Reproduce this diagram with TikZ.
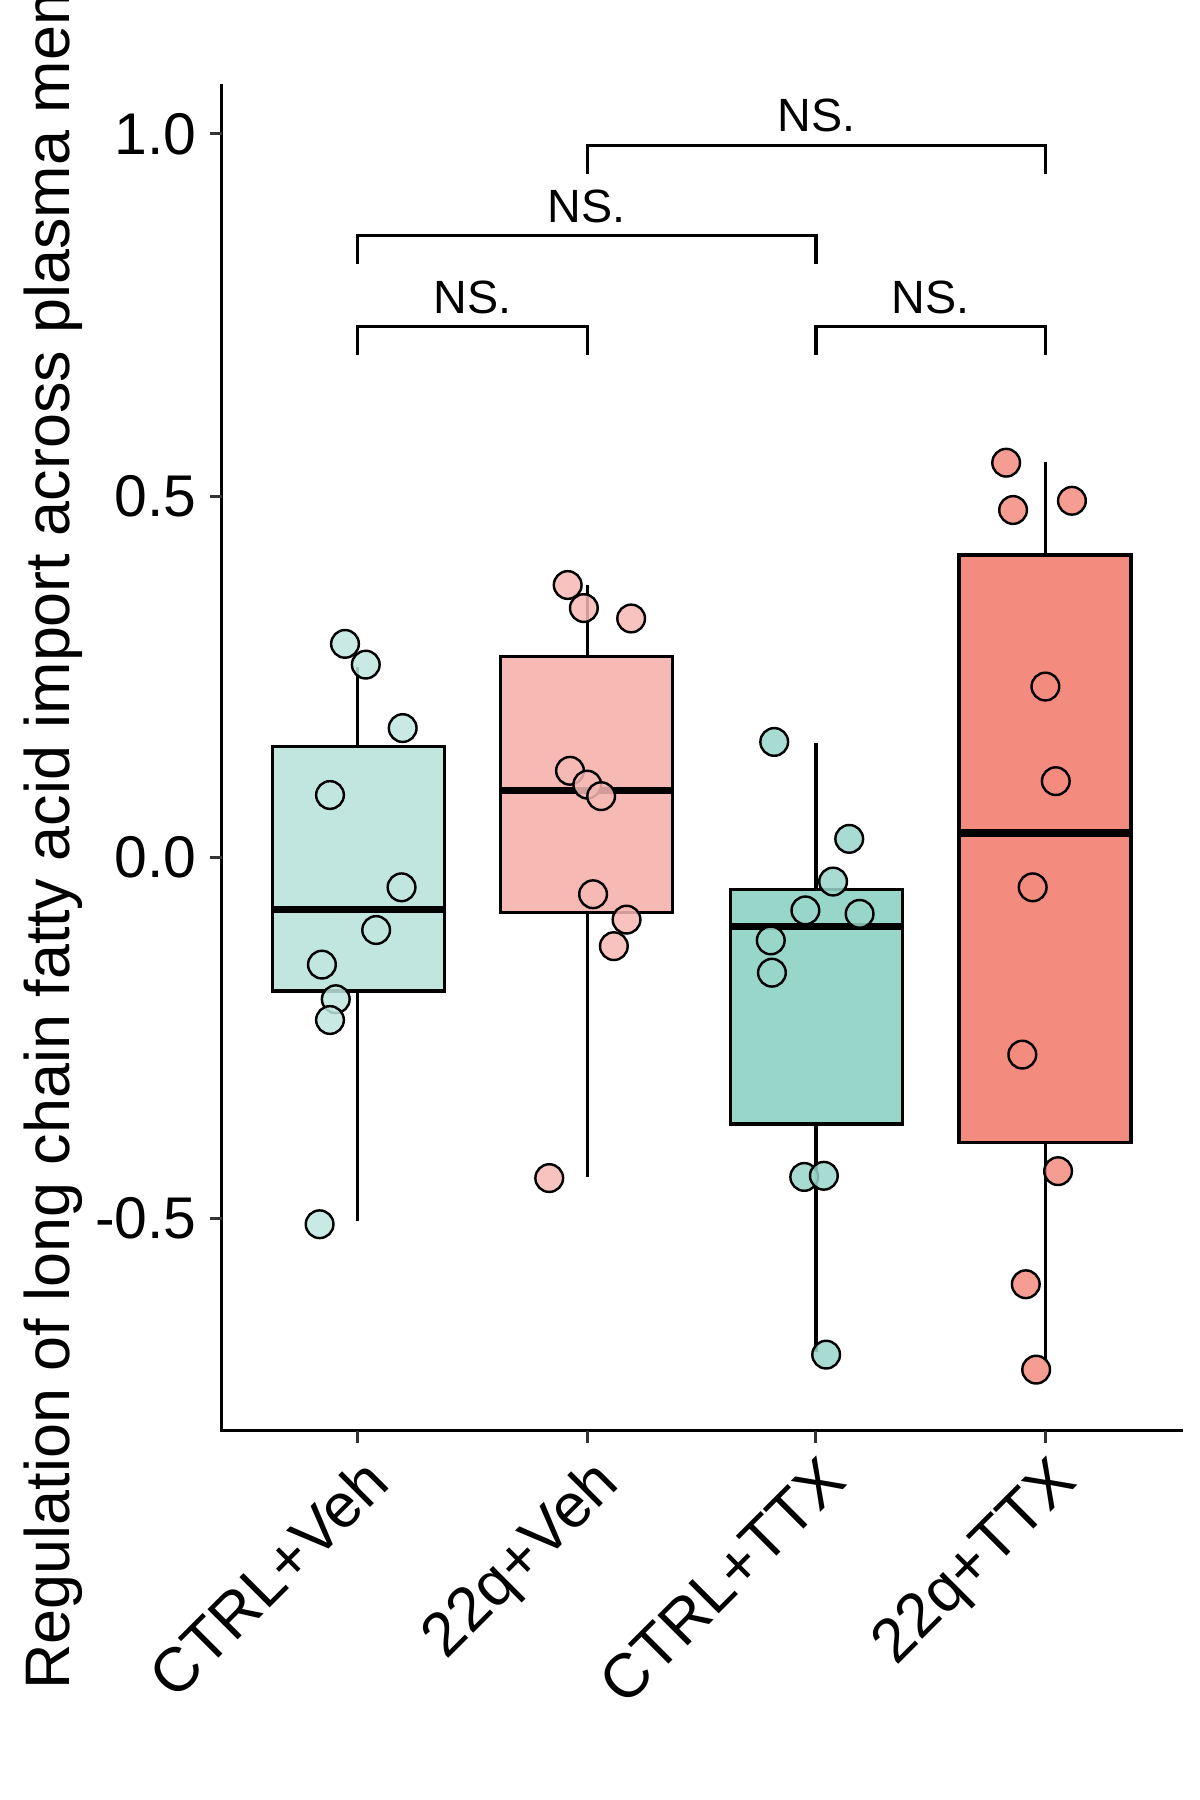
\documentclass[tikz,border=0pt]{standalone}
\usepackage{fontspec}
\setmainfont{Liberation Sans}
\definecolor{ctrlveh}{HTML}{C0E6DF}
\definecolor{qveh}{HTML}{F7B9B4}
\definecolor{ctrlttx}{HTML}{99D6CA}
\definecolor{qttx}{HTML}{F38C7F}
\definecolor{tickgrey}{HTML}{333333}
\tikzset{
  obs/.style={circle, draw=black, line width=0.6pt, inner sep=0pt,
    minimum size=0.24cm, fill opacity=0.85},
  boxline/.style={draw=black, line width=0.85pt},
  median/.style={line width=1.8pt},
  axisline/.style={line width=0.75pt},
  tickline/.style={tickgrey, line width=0.75pt},
  bracket/.style={line width=0.85pt},
  ticklab/.style={font=\fontsize{14.5}{16}\selectfont, anchor=east, inner sep=0pt},
  grplab/.style={font=\fontsize{15.3}{17}\selectfont, rotate=45, anchor=north east, inner sep=0pt},
  nslab/.style={font=\fontsize{11.5}{13}\selectfont, anchor=base, inner sep=0pt}
}
\begin{document}
\begin{tikzpicture}[x=0.01cm, y=-0.01cm]
  \useasboundingbox (0,0) rectangle (1040,1560);
  \clip (0,0) rectangle (1040,1560);

  % axes
  \draw[axisline] (192,73) -- (192,1240) -- (1025,1240);
  \foreach \v/\y in {1.0/116, 0.5/430, 0.0/743, -0.5/1056}{
    \draw[tickline] (182,\y) -- (192,\y);
    \node[ticklab] (y\y) at (171,\y) {\v};
  }
  \foreach \x/\g in {310/CTRL+Veh, 509/22q+Veh, 707/CTRL+TTX, 906/22q+TTX}{
    \draw[tickline] (\x,1240) -- (\x,1251);
    \node[grplab] (x\x) at (\x+2,1259) {\g};
  }
  \node[font=\fontsize{15.5}{17}\selectfont, rotate=90, anchor=base west, inner sep=0pt]
    (ylab) at (60,1465) {Regulation of long chain fatty acid import across plasma membrane};

  % CTRL+Veh
  \draw[boxline] (310,578) -- (310,1058);
  \draw[boxline, fill=ctrlveh] (236,647) rectangle (385,859);
  \draw[median] (236,788) -- (385,788);
  \foreach \x/\y [count=\i] in {299/558, 317/576, 349/631, 286/689, 348/769,
      326/806, 279/836, 291/866, 286/884, 277/1061}
    \node[obs, fill=ctrlveh] (a\i) at (\x,\y) {};

  % 22q+Veh
  \draw[boxline] (509,507) -- (509,1020);
  \draw[boxline, fill=qveh] (434,569) rectangle (583,791);
  \draw[median] (434,685) -- (583,685);
  \foreach \x/\y [count=\i] in {492/507, 506/527, 547/536, 494/668, 509/680,
      521/690, 514/775, 543/797, 532/820, 476/1021}
    \node[obs, fill=qveh] (b\i) at (\x,\y) {};

  % CTRL+TTX
  \draw[boxline] (707,644) -- (707,1172);
  \draw[boxline, fill=ctrlttx] (633,771) rectangle (782,974);
  \draw[median] (633,803) -- (782,803);
  \foreach \x/\y [count=\i] in {671/643, 736/727, 722/764, 698/789, 745/792,
      668/815, 669/843, 697/1020, 714/1019, 716/1174}
    \node[obs, fill=ctrlttx] (c\i) at (\x,\y) {};

  % 22q+TTX
  \draw[boxline] (906,400) -- (906,1180);
  \draw[boxline, fill=qttx] (831,481) rectangle (980,990);
  \draw[median] (831,722) -- (980,722);
  \foreach \x/\y [count=\i] in {872/401, 878/442, 929/434, 906/595, 915/677,
      895/769, 886/914, 917/1015, 889/1113, 898/1187}
    \node[obs, fill=qttx] (d\i) at (\x,\y) {};

  % significance brackets
  \draw[bracket] (310,308) |- (509,283) -- (509,308);
  \node[nslab] (ns1) at (409.5,272) {NS.};
  \draw[bracket] (707,308) |- (906,283) -- (906,308);
  \node[nslab] (ns2) at (806.5,272) {NS.};
  \draw[bracket] (310,229) |- (707,204) -- (707,229);
  \node[nslab] (ns3) at (508.5,193) {NS.};
  \draw[bracket] (509,151) |- (906,126) -- (906,151);
  \node[nslab] (ns4) at (707.5,114) {NS.};
\end{tikzpicture}
\end{document}
